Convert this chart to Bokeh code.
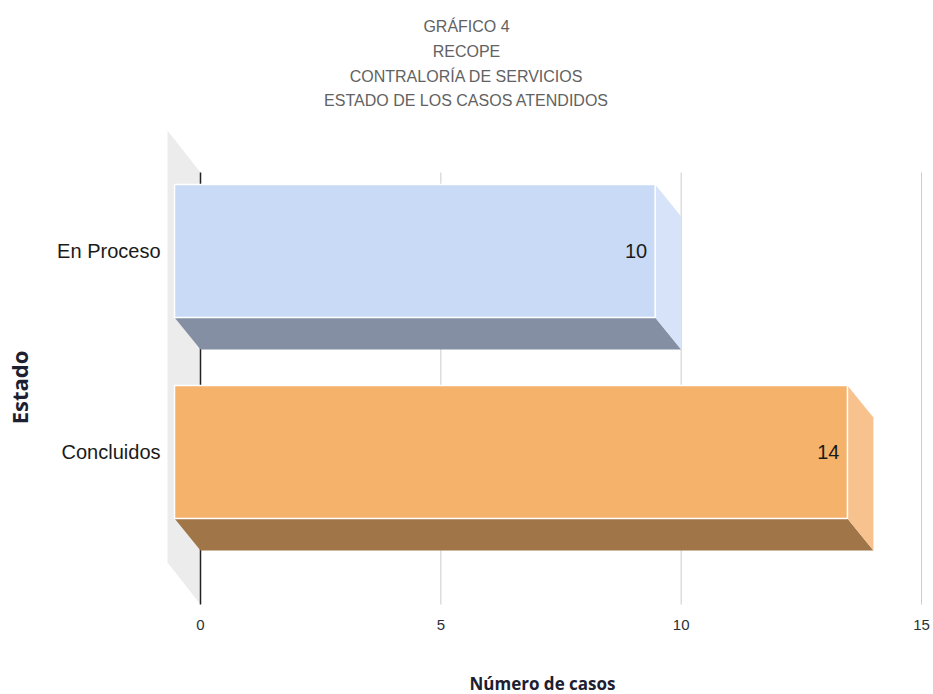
from bokeh.plotting import figure
from bokeh.models import Range1d
from bokeh.core.properties import value
from bokeh.embed import file_html
from bokeh.resources import INLINE

# ---- data ----
categories = ["En Proceso", "Concluidos"]
casos = [10, 14]
cat_pos = [1, 0]                      # En Proceso on top
x_ticks = [0, 5, 10, 15]
tick_labels = ["0", "5", "10", "15"]
title_lines = ["GRÁFICO 4", "RECOPE", "CONTRALORÍA DE SERVICIOS",
               "ESTADO DE LOS CASOS ATENDIDOS"]

front_colors = ["#c9daf6", "#f5b26b"]
side_colors = ["#d6e3f9", "#f7c28d"]
bottom_colors = ["#858fa3", "#a07548"]

# ---- canvas geometry ----
W, H = 933, 694
X0, SX = 200.0, 721.0 / 15.0          # pixel of x=0, pixels per case
Y0, SY = 483.5, 201.0                 # pixel of category 0, pixels per category


def X(px):
    return (px - X0) / SX


def Y(py):
    return (Y0 - py) / SY


DX, DY = 26.0 / SX, 32.0 / SY          # bar depth offset
HALF = 66.5 / SY                       # half bar thickness
WX, WY = 33.0 / SX, 42.0 / SY          # wall depth offset
Y_TOP, Y_BOT = Y(172), Y(604)          # back plane extent

SANS = value("Liberation Sans")
BOLD = value("Open Sans")

p = figure(width=W, height=H, output_backend="svg", toolbar_location=None,
           x_range=Range1d(X(0), X(W)), y_range=Range1d(Y(H), Y(0)),
           x_axis_location=None, y_axis_location=None, min_border=0,
           outline_line_color=None, background_fill_color="white",
           border_fill_color="white")
p.grid.visible = False

# left wall
p.patch([-WX, 0, 0, -WX], [Y_TOP + WY, Y_TOP, Y_BOT, Y_BOT + WY],
        fill_color="#ececec", line_color=None)

# grid lines on the back plane
for t in x_ticks:
    p.segment(x0=[t], y0=[Y_TOP], x1=[t], y1=[Y_BOT],
              line_color="#222222" if t == 0 else "#cccccc",
              line_width=1.5 if t == 0 else 1)

# 3-D bars
for cat, v, yc, fc, sc, bc in zip(categories, casos, cat_pos,
                                  front_colors, side_colors, bottom_colors):
    fy = yc + DY
    p.patch([-DX, v - DX, v, 0], [fy - HALF, fy - HALF, yc - HALF, yc - HALF],
            fill_color=bc, line_color=None)
    p.patch([v - DX, v, v, v - DX], [fy + HALF, yc + HALF, yc - HALF, fy - HALF],
            fill_color=sc, line_color=None)
    p.quad(left=[-DX], right=[v - DX], bottom=[fy - HALF], top=[fy + HALF],
           fill_color=fc, line_color="white", line_width=1.5)

# value labels
p.text(x=[v - DX for v in casos], y=[c + DY for c in cat_pos],
       text=[str(v) for v in casos], x_offset=-8,
       text_align="right", text_baseline="middle",
       text_font=SANS, text_font_size="20px", text_color="#1a1a1a")

# category labels
p.text(x=[X(160)] * len(categories), y=[c + DY for c in cat_pos],
       text=categories, text_align="right", text_baseline="middle",
       text_font=SANS, text_font_size="20px", text_color="#1a1a1a")

# x tick labels
p.text(x=x_ticks, y=[Y(624)] * len(x_ticks), text=tick_labels,
       text_align="center", text_baseline="middle",
       text_font=SANS, text_font_size="15px", text_color="#2b2f36")

# title
p.text(x=[X(466)] * 4, y=[Y(26), Y(51), Y(76), Y(100)], text=title_lines,
       text_align="center", text_baseline="middle",
       text_font=SANS, text_font_size="16px", text_color="#626262")

# axis titles
p.text(x=[X(542)], y=[Y(683)], text=["Número de casos"],
       text_align="center", text_baseline="middle",
       text_font=BOLD, text_font_style="bold", text_font_size="17px",
       text_color="#1c2030")
p.text(x=[X(18.5)], y=[Y(387)], text=["Estado"], angle=1.5707963,
       text_align="center", text_baseline="middle",
       text_font=BOLD, text_font_style="bold", text_font_size="22px",
       text_color="#1c2030")

open("out.html", "w").write(file_html(p, INLINE))
